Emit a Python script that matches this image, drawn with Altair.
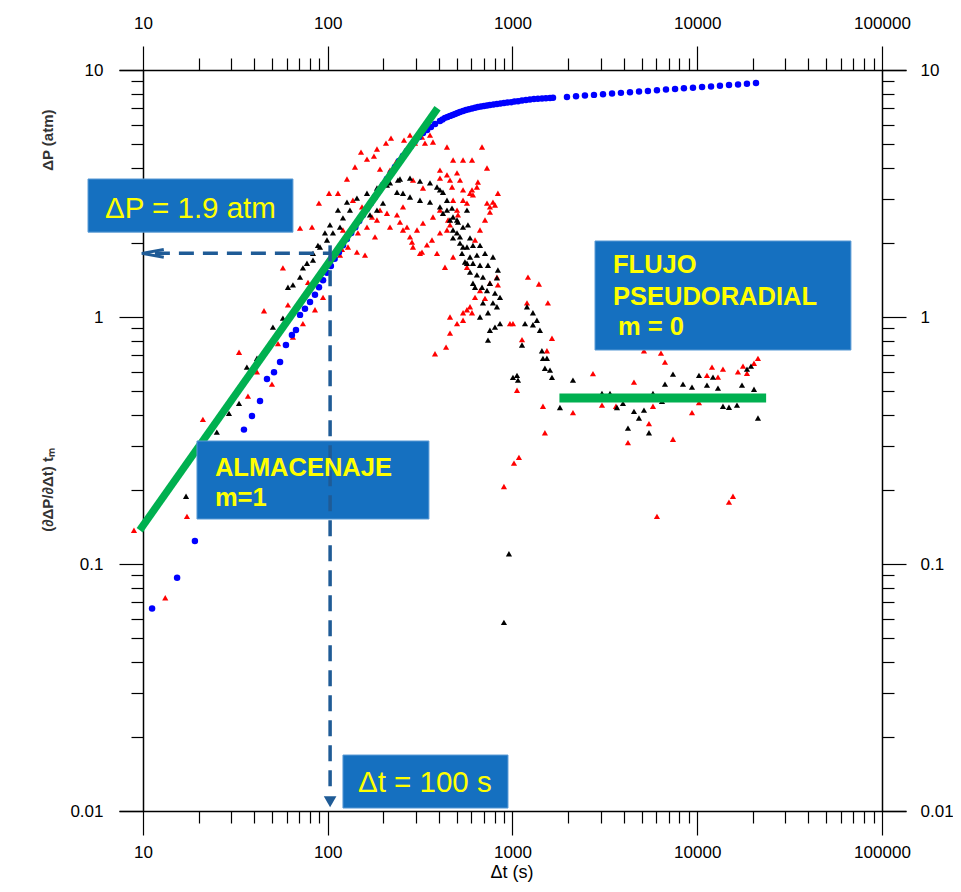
import altair as alt
import pandas as pd

# ---------------- data ----------------
# Pressure change (blue dots)
blue_t = [11.2, 15.3, 19.1, 35.2, 38.9, 43.0, 46.9, 51.2, 55.2, 59.4, 64.0, 67.3, 70.8, 75.3, 80.2, 85.3, 89.7,
          94.3, 99.0, 104, 109, 115, 121, 127, 134, 141, 148, 155, 163, 171, 180, 189, 199, 209, 220, 231, 243,
          255, 268, 282, 297, 312, 328, 345, 362, 381, 405, 418, 431, 445, 459, 474, 489, 504, 520, 540, 560, 581,
          604, 627, 650, 675, 701, 728, 755, 789, 824, 861, 899, 939, 982, 1025, 1072, 1126, 1183, 1243, 1307,
          1373, 1445, 1517, 1596, 1657,
          1972, 2208, 2467, 2761, 3090, 3459, 3864, 4325, 4842, 5408, 6053, 6775, 7586, 8472, 9484, 10620,
          11880, 13270, 14860, 16630, 18580, 20800]
blue_dp = [0.066, 0.088, 0.124, 0.35, 0.397, 0.457, 0.561, 0.598, 0.658, 0.771, 0.846, 0.885, 1.02, 1.08, 1.15, 1.23, 1.32,
           1.41, 1.51, 1.61, 1.72, 1.83, 1.95, 2.07, 2.19, 2.31, 2.45, 2.59, 2.74, 2.89, 3.06, 3.24, 3.42, 3.62, 3.83, 4.05, 4.28,
           4.49, 4.70, 4.92, 5.16, 5.36, 5.56, 5.72, 5.88, 6.04, 6.22, 6.30, 6.40, 6.45, 6.52, 6.57, 6.64, 6.70, 6.76, 6.82, 6.89, 6.94,
           6.98, 7.04, 7.08, 7.12, 7.15, 7.19, 7.21, 7.25, 7.28, 7.32, 7.35, 7.38, 7.41, 7.45, 7.48, 7.52, 7.56, 7.60, 7.63,
           7.65, 7.67, 7.69, 7.71, 7.72,
           7.78, 7.83, 7.88, 7.93, 7.98, 8.03, 8.08, 8.13, 8.18, 8.23, 8.28, 8.33, 8.38, 8.43, 8.48, 8.53,
           8.58, 8.63, 8.69, 8.74, 8.79, 8.85]

# Derivative (black triangles)
black_t = [17.1, 25.1, 29.2, 33.1, 36.5, 41.4, 50.5, 57.2, 60.9, 64.8, 70.8, 73.4, 77.2, 83.2, 83.2, 88.5, 90.8, 96.6, 99.1,
           102.8, 106.7, 113.6, 116.5, 120.9, 127.1, 131.9, 143.9, 163.1, 169.3, 184.7, 184.7, 199.1, 209.3, 217.3,
           237.1, 240, 246.1, 255.5, 278.8, 278.8, 315.7, 315.7, 357.7, 357.7, 390.3, 405, 405, 420.6, 420.6, 442,
           442, 459, 470.6, 476.5, 476.5, 476.5, 500.8, 500.8, 507, 519.8, 519.8, 533, 539.6, 539.6, 553, 567, 567,
           567, 574, 589, 589, 589, 611, 611, 611, 627, 642, 642, 667, 667, 667, 684, 692, 692, 710, 728, 737, 737,
           737, 755, 755, 784, 784, 804, 804, 824, 824, 834, 856, 856, 899, 957, 1006, 1058, 1071, 1126, 1169, 1198,
           1290, 1290, 1356, 1408, 1443, 1462, 1498, 1536, 1596, 1636, 1807, 2125, 3051, 3371, 3678, 3963, 4218,
           4546, 4837, 5149, 5480, 5760, 6444, 6690, 7391, 8372, 9368, 10220, 11290, 12170, 12950, 13780, 14850,
           16410, 17470, 18590, 19540, 20290, 21320]
black_d = [0.188, 0.342, 0.407, 0.447, 0.627, 0.681, 0.91, 0.99, 1.32, 1.35, 1.45, 1.58, 1.65, 1.81, 1.70, 1.95, 1.92, 2.19, 2.05,
           2.36, 2.19, 2.71, 2.31, 2.52, 2.92, 2.71, 3.03, 3.17, 2.59, 3.33, 2.71, 2.89, 3.42, 3.49,
           3.2, 3.58, 3.62, 3.17, 3.65, 3.06, 3.55, 2.97, 3.49, 2.92, 3.36, 3.27, 2.79, 3.2, 2.63, 2.97,
           2.71, 2.47, 2.76, 2.54, 2.25, 2.09, 2.47, 2.19, 2.42, 2.11, 1.99, 1.81, 2.31, 1.92, 1.67, 2.71, 1.92,
           1.65, 2.36, 2.09, 1.75, 1.52, 1.95, 1.65, 1.37, 1.32, 1.78, 1.48, 1.95, 1.62, 1.0, 1.32, 1.45, 1.14, 1.81, 1.28, 1.62, 1.04,
           0.806, 1.37, 0.884, 1.75, 1.14, 1.25, 0.91, 1.44, 1.1, 1.55, 1.2, 0.94, 0.058, 0.11, 0.57, 0.58, 0.555, 0.77, 0.94, 1.1,
           1.04, 0.93, 0.97, 0.884, 0.73, 0.68, 0.62, 0.681, 0.609, 0.57, 0.43, 0.555, 0.49, 0.49, 0.43, 0.447, 0.355,
           0.415, 0.39, 0.42, 0.34, 0.49, 0.456, 0.535, 0.587, 0.535, 0.52, 0.58, 0.53, 0.571, 0.515, 0.435, 0.431,
           0.44, 0.53, 0.615, 0.633, 0.51, 0.39]

# Derivative, second computation (red triangles)
red_t = [8.94, 13.2, 17.3, 21.1, 33.1, 37.0, 41.4, 45.2, 49.9, 53.8, 57.2, 60.9, 64.8, 70.8, 73.4, 78.2, 82.2, 85.3, 89.6,
         94.3, 101.6, 113.6, 116.5, 119.4, 120.9, 127.1, 128.7, 136.9, 140.4, 143.9, 145.7, 151.4, 153.3, 159.1, 163.1,
         163.1, 173.6, 177.9, 180.2, 184.7, 184.7, 191.8, 191.8, 206.7, 209.3, 217.3, 217.3, 220, 234.1, 237.1, 246.1,
         255.5, 255.5, 258.7, 268.5, 278.8, 278.8, 285.8, 289.4, 289.4, 296.7, 304.2, 315.7, 323.7, 323.7, 327.7, 327.7,
         336, 344.4, 357.7, 366.7, 371.3, 371.3, 380.7, 390.3, 405, 405, 405, 405, 431, 437, 442, 442, 442, 448, 459, 459,
         459, 459, 471, 477, 477, 477, 501, 501, 501, 507, 520, 540, 540, 540, 540, 540, 567, 567, 567, 589, 589, 604, 604,
         604, 611, 627, 627, 642, 650, 667, 667, 684, 710, 710, 728, 728, 755, 755, 755, 784, 804, 824, 834, 834, 899, 969,
         1006, 1019, 1058, 1084, 1126, 1198, 1213, 1390, 1462, 1498, 1536, 1555, 1636, 2125, 2727, 3051, 3632, 4218, 4546,
         5149, 5480, 5760, 6054, 6364, 6690, 7391, 9368, 10220, 11290, 12020, 12950, 13780, 14850, 15610, 16610, 17690,
         18590, 20290, 21320]
red_d = [0.137, 0.073, 0.156, 0.385, 0.72, 0.478, 0.6, 1.06, 0.535, 0.78, 1.58, 1.12, 0.83, 2.29, 0.94, 1.38, 2.31, 1.07, 2.89,
         1.2, 3.17, 3.17, 1.78, 1.88, 2.25, 3.62, 1.92, 2.97, 4.05, 1.83, 2.19, 4.65, 2.79, 1.78, 4.36,
         2.31, 2.54, 4.48, 2.11, 4.79, 2.47, 3.97, 2.71, 5.06, 2.63, 3.93, 2.31, 5.3, 4.24, 2.59, 2.42,
         2.79, 2.25, 5.2, 2.31, 5.45, 2.11, 2.01, 3.58, 1.92, 5.06, 2.25, 1.81, 5.35, 1.83, 3.33, 2.4,
         5.06, 1.96, 5.45, 2.05, 5.11, 2.54, 0.71, 1.81, 3.93, 3.65, 2.71, 2.19, 1.59, 0.755, 4.88, 3.76, 2.25, 2.47, 3.58, 2.36,
         1.0, 0.86, 3.36, 4.32, 2.97, 1.75, 3.83, 2.71, 0.94, 2.59, 3.58, 4.32, 3.27, 2.97, 1.04, 0.97, 2.89, 1.59, 1.07, 3.17, 1.1, 4.32, 3.27,
         1.04, 3.12, 2.05, 1.2, 3.36, 3.52, 2.25, 1.28, 4.88, 2.47, 1.19, 4.01, 2.89, 2.79, 2.66, 1.37, 2.92, 2.84, 1.45, 3.17, 1.35, 0.206, 0.94,
         0.94, 0.256, 0.505, 0.27, 0.81, 1.14, 1.45, 1.36, 0.435, 0.34, 0.73, 1.14, 0.82, 0.41, 0.59, 0.44, 0.435, 0.31, 0.545,
         0.73, 0.37, 0.435, 0.156, 0.714, 0.657, 0.32, 0.41, 0.45, 0.58, 0.627, 0.571, 0.615, 0.178, 0.188, 0.6, 0.633,
         0.592, 0.65, 0.68]

# straight-line fits (green)
storage_t = [9.6, 393]
storage_v = [0.137, 7.0]
radial_t = [1795, 23600]
radial_v = [0.47, 0.47]

# axis ticks
x_major = [10, 100, 1000, 10000, 100000]
y_major = [0.01, 0.1, 1, 10]
minor_mult = [2, 3, 4, 5, 6, 7, 8, 9]

# annotation boxes (data coordinates)
box_names = ["dp", "alm", "flujo", "dt"]
box_t1 = [5.04, 19.6, 2797, 120.9]
box_t2 = [64.8, 353, 67900, 945.4]
box_v1 = [3.62, 0.3148, 2.031, 0.01685]
box_v2 = [2.206, 0.1521, 0.735, 0.01028]

normal_text = ["ΔP = 1.9 atm", "Δt = 100 s"]
normal_t = [6.23, 145.8]
normal_v = [2.517, 0.01194]

bold_text = ["ALMACENAJE", "m=1", "FLUJO", "PSEUDORADIAL", "m = 0"]
bold_t = [24.5, 24.5, 3499, 3499, 3724]
bold_v = [0.2272, 0.1717, 1.507, 1.118, 0.8456]

# guide lines for ΔP and Δt readings
dp_read = 1.81
dt_read = 103

# ---------------- chart ----------------
x_ticks = sorted(x_major + [m * d for d in x_major[:-1] for m in minor_mult])
y_ticks = sorted(y_major + [round(m * d, 6) for d in y_major[:-1] for m in minor_mult])

FONT = "Liberation Sans Narrow, Arial Narrow, Liberation Sans, Arial, sans-serif"
IS_MAJOR = "abs(log(datum.value)/LN10 - round(log(datum.value)/LN10)) < 0.000001"
TICK = {"condition": {"test": IS_MAJOR, "value": 24}, "value": 12}

xs = alt.Scale(type="log", domain=[7.416, 134900], nice=False)
ys = alt.Scale(type="log", domain=[0.01, 10], nice=False)


def x_axis(orient, pad):
    return alt.Axis(orient=orient, values=x_ticks, format="d", title=None, grid=False,
                    labelExpr=f"{IS_MAJOR} ? datum.label : ''",
                    tickSize=TICK, tickColor="black", tickWidth=1.2,
                    domainColor="black", domainWidth=1.5,
                    labelFont=FONT, labelFontSize=17, labelColor="black",
                    labelPadding=pad, labelFlush=False, labelOverlap=False, labelBound=False)


def y_axis(orient, pad):
    return alt.Axis(orient=orient, values=y_ticks, format="~g", title=None, grid=False, offset=-24,
                    labelExpr=f"{IS_MAJOR} ? datum.label : ''",
                    tickSize=TICK, tickColor="black", tickWidth=1.2,
                    domainColor="black", domainWidth=1.5,
                    labelFont=FONT, labelFontSize=17, labelColor="black",
                    labelPadding=pad, labelFlush=False, labelOverlap=False, labelBound=False)


red_df = pd.DataFrame({"t": red_t, "v": red_d})
black_df = pd.DataFrame({"t": black_t, "v": black_d})
blue_df = pd.DataFrame({"t": blue_t, "v": blue_dp})

red = alt.Chart(red_df).mark_point(shape="triangle-up", filled=True, size=38, color="#ff0000", opacity=1).encode(
    x=alt.X("t:Q", scale=xs, axis=x_axis("bottom", 9)),
    y=alt.Y("v:Q", scale=ys, axis=y_axis("left", 16)))

black = alt.Chart(black_df).mark_point(shape="triangle-up", filled=True, size=38, color="#000000", opacity=1).encode(
    x=alt.X("t:Q", scale=xs, axis=x_axis("top", 14)),
    y=alt.Y("v:Q", scale=ys, axis=y_axis("right", 14)))

blue = alt.Chart(blue_df).mark_circle(size=42, color="#0000ff", opacity=1).encode(
    x=alt.X("t:Q", scale=xs, axis=None),
    y=alt.Y("v:Q", scale=ys, axis=None))

green1 = alt.Chart(pd.DataFrame({"t": storage_t, "v": storage_v})).mark_line(
    color="#00b050", strokeWidth=7.5, strokeCap="butt").encode(
    x=alt.X("t:Q", scale=xs, axis=None), y=alt.Y("v:Q", scale=ys, axis=None))

green2 = alt.Chart(pd.DataFrame({"t": radial_t, "v": radial_v})).mark_line(
    color="#00b050", strokeWidth=9, strokeCap="butt").encode(
    x=alt.X("t:Q", scale=xs, axis=None), y=alt.Y("v:Q", scale=ys, axis=None))

box_df = pd.DataFrame({"name": box_names, "t": box_t1, "t2": box_t2, "v": box_v1, "v2": box_v2})
boxes = alt.Chart(box_df).mark_rect(color="#1570c0", stroke="#5b9bd5", strokeWidth=1).encode(
    x=alt.X("t:Q", scale=xs, axis=None), x2="t2:Q",
    y=alt.Y("v:Q", scale=ys, axis=None), y2="v2:Q")

DASH = "#1f5b96"
hline = alt.Chart(pd.DataFrame({"t": [11.6], "t2": [dt_read], "v": [dp_read]})).mark_rule(
    color=DASH, strokeWidth=3.5, strokeDash=[15, 9]).encode(
    x=alt.X("t:Q", scale=xs, axis=None), x2="t2:Q", y=alt.Y("v:Q", scale=ys, axis=None))

vline = alt.Chart(pd.DataFrame({"t": [dt_read], "v": [1.95], "v2": [0.0118]})).mark_rule(
    color=DASH, strokeWidth=3.5, strokeDash=[16, 9]).encode(
    x=alt.X("t:Q", scale=xs, axis=None), y=alt.Y("v:Q", scale=ys, axis=None), y2="v2:Q")

left_head = alt.Chart(pd.DataFrame({"t": [11.3], "v": [dp_read]})).mark_point(
    shape="M 1 -0.35 L -1 0 L 1 0.35", size=484, filled=False, color=DASH, strokeWidth=3, opacity=1).encode(
    x=alt.X("t:Q", scale=xs, axis=None), y=alt.Y("v:Q", scale=ys, axis=None))

down_head = alt.Chart(pd.DataFrame({"t": [dt_read], "v": [0.0109]})).mark_point(
    shape="triangle-down", size=160, filled=True, color=DASH, opacity=1).encode(
    x=alt.X("t:Q", scale=xs, axis=None), y=alt.Y("v:Q", scale=ys, axis=None))

ntext = alt.Chart(pd.DataFrame({"t": normal_t, "v": normal_v, "s": normal_text})).mark_text(
    align="left", baseline="alphabetic", font="Liberation Sans, Arial, sans-serif", fontSize=29.5,
    color="#ffff00").encode(
    x=alt.X("t:Q", scale=xs, axis=None), y=alt.Y("v:Q", scale=ys, axis=None), text="s:N")

btext = alt.Chart(pd.DataFrame({"t": bold_t, "v": bold_v, "s": bold_text})).mark_text(
    align="left", baseline="alphabetic", font="Liberation Sans, Arial, sans-serif", fontSize=25.5,
    fontWeight="bold", color="#ffff00").encode(
    x=alt.X("t:Q", scale=xs, axis=None), y=alt.Y("v:Q", scale=ys, axis=None), text="s:N")

ytitle = alt.Chart(pd.DataFrame({"v": [5.2, 0.1994], "s": ["ΔP (atm)", "(∂ΔP/∂Δt) tₘ"]})).mark_text(
    angle=270, align="center", baseline="middle", font="Liberation Sans, Arial, sans-serif",
    fontSize=15, fontWeight="bold", color="#333333").encode(
    x=alt.value(-71), y=alt.Y("v:Q", scale=ys, axis=None), text="s:N")

xtitle = alt.Chart(pd.DataFrame({"t": [993], "s": ["Δt (s)"]})).mark_text(
    align="center", baseline="middle", font=FONT, fontSize=18, color="black").encode(
    x=alt.X("t:Q", scale=xs, axis=None), y=alt.value(803), text="s:N")

chart = alt.layer(
    red, black, blue, green1, green2, boxes, hline, vline, left_head, down_head, ntext, btext, ytitle, xtitle
).resolve_axis(x="independent", y="independent").properties(
    width=787, height=741,
    autosize=alt.AutoSizeParams(type="none"),
    padding={"left": 111, "top": 62, "right": 47, "bottom": 75},
).configure_view(strokeWidth=0)

chart.save("out.html", embed_options={"renderer": "svg", "actions": False})
